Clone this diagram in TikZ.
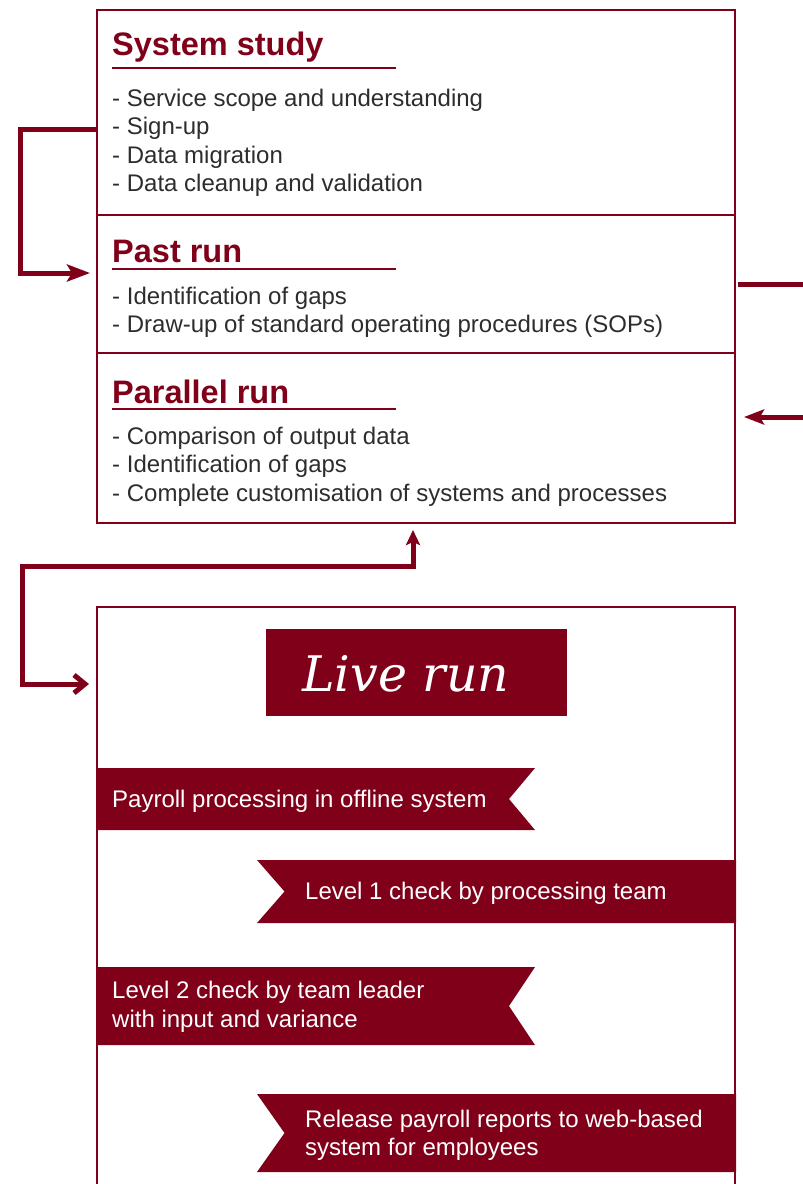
\documentclass[tikz,border=0pt]{standalone}
\usepackage{fontspec}
\setmainfont{Liberation Sans}
\newfontfamily\serifit{DejaVu Serif}
\usetikzlibrary{arrows.meta}
\definecolor{pwcred}{RGB}{128,0,26}
\definecolor{bodygray}{RGB}{45,45,45}
\begin{document}
\begin{tikzpicture}[x=1pt,y=-1pt,
  panel/.style={draw=pwcred, line width=2pt, inner sep=0pt, outer sep=0pt, anchor=north west},
  ttl/.style={anchor=base west, inner sep=0pt, text=pwcred, font=\fontsize{32.5}{36}\selectfont\bfseries},
  item/.style={anchor=base west, inner sep=0pt, text=bodygray, font=\fontsize{24}{29}\selectfont},
  rtext/.style={anchor=base west, inner sep=0pt, text=white, font=\fontsize{24}{29}\selectfont},
  uline/.style={draw=pwcred, line width=2pt},
  conn/.style={draw=pwcred, line width=5pt},
  ribbon/.style={fill=pwcred},
]
\clip (0,0) rectangle (803,1184);
\fill[white] (0,0) rectangle (803,1184);

% top stacked panels
\node[panel, minimum width=638pt, minimum height=205pt] (sys) at (97,10) {};
\node[panel, minimum width=638pt, minimum height=138pt] (past) at (97,215) {};
\node[panel, minimum width=638pt, minimum height=170pt] (par) at (97,353) {};

% System study
\node[ttl] (t1) at (112,55) {System study};
\draw[uline] (112,68) -- (396,68);
\node[item] (s1) at (112,106) {- Service scope and understanding};
\node[item] (s2) at (112,134.5) {- Sign-up};
\node[item] (s3) at (112,163) {- Data migration};
\node[item] (s4) at (112,191.5) {- Data cleanup and validation};

% Past run
\node[ttl] (t2) at (112,262) {Past run};
\draw[uline] (112,269) -- (396,269);
\node[item] (p1) at (112,304) {- Identification of gaps};
\node[item] (p2) at (112,332.5) {- Draw-up of standard operating procedures (SOPs)};

% Parallel run
\node[ttl] (t3) at (112,403) {Parallel run};
\draw[uline] (112,409) -- (396,409);
\node[item] (q1) at (112,444) {- Comparison of output data};
\node[item] (q2) at (112,472.5) {- Identification of gaps};
\node[item] (q3) at (112,501) {- Complete customisation of systems and processes};

% Live run panel
\node[panel, minimum width=638pt, minimum height=700pt] (live) at (97,607) {};
\node[fill=pwcred, minimum width=301pt, minimum height=87pt, inner sep=0pt, anchor=north west] (lrbox) at (266,629) {};
\node[anchor=base west, inner sep=0pt, text=white, font=\serifit\itshape\fontsize{49}{54}\selectfont] (lr) at (302,691) {Live run};

% ribbons
\fill[ribbon] (97,768) -- (535,768) -- (509,799) -- (535,830) -- (97,830) -- cycle;
\node[rtext] (r1) at (112,807) {Payroll processing in offline system};

\fill[ribbon] (257,860) -- (736,860) -- (736,923) -- (257,923) -- (284.5,891.5) -- cycle;
\node[rtext] (r2) at (305,899) {Level 1 check by processing team};

\fill[ribbon] (97,967) -- (535,967) -- (509,1006) -- (535,1045) -- (97,1045) -- cycle;
\node[rtext] (r3a) at (112,998) {Level 2 check by team leader};
\node[rtext] (r3b) at (112,1027) {with input and variance};

\fill[ribbon] (257,1094) -- (736,1094) -- (736,1172) -- (257,1172) -- (284.5,1133) -- cycle;
\node[rtext] (r4a) at (305,1127) {Release payroll reports to web-based};
\node[rtext] (r4b) at (305,1155.5) {system for employees};

% connectors
\coordinate (a1) at (97,129);
\coordinate (a2) at (90,273);
\draw[conn, -{Stealth[length=23pt,width=17pt,inset=5pt]}] (a1) -- (20,129) -- (20,273) -- (a2);

\coordinate (b2) at (803,284);
\draw[conn] ([xshift=3pt]past.east) -- (b2);

\coordinate (c1) at (810,417);
\coordinate (c2) at (744,417);
\draw[conn, -{Stealth[length=20pt,width=15pt,inset=4pt]}] (c1) -- (c2);

\coordinate (d1) at (89,684);
\coordinate (d2) at (413,530);
\draw[conn, {Straight Barb[length=11pt,width=18pt]}-{Stealth[length=15pt,width=14pt,inset=3pt]}] (d1) -- (22,684) -- (22,566) -- (413,566) -- (d2);
\end{tikzpicture}
\end{document}
